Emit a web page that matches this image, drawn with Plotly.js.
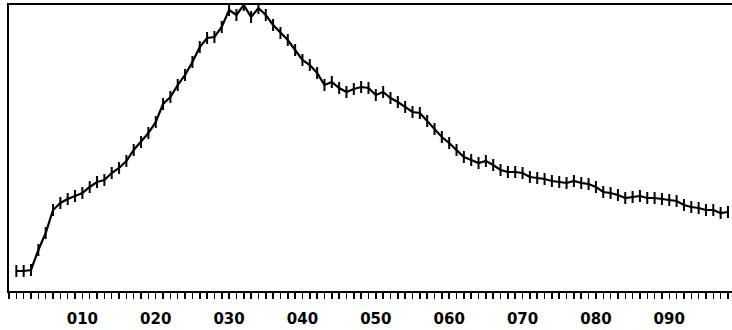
<!DOCTYPE html>
<html>
<head>
<meta charset="utf-8">
<script src="https://cdn.plot.ly/plotly-3.0.1.min.js"></script>
<style>html,body{margin:0;padding:0;background:#fff;}#chart{width:732px;height:330px;}</style>
</head>
<body>
<div id="chart"></div>
<script>
// channel numbers
var channel = [1,2,3,4,5,6,7,8,9,10,11,12,13,14,15,16,17,18,19,20,
  21,22,23,24,25,26,27,28,29,30,31,32,33,34,35,36,37,38,39,40,
  41,42,43,44,45,46,47,48,49,50,51,52,53,54,55,56,57,58,59,60,
  61,62,63,64,65,66,67,68,69,70,71,72,73,74,75,76,77,78,79,80,
  81,82,83,84,85,86,87,88,89,90,91,92,93,94,95,96,97,98];
// counts (arbitrary units)
var counts = [20,20,21,41,58,81,88,92,95,98,
  104,109,111,118,123,130,141,149,158,169,
  187,194,206,216,229,244,253,254,264,281,
  276,286,274,283,276,266,258,251,241,231,
  226,218,206,209,203,199,202,204,203,196,
  199,193,189,184,179,178,170,162,154,148,
  141,134,131,128,130,126,121,119,119,118,
  114,113,112,110,109,108,110,108,107,104,
  99,98,96,93,94,95,93,93,92,91,
  90,86,84,83,81,81,78,79];
var errSize = 6;
var tickPos = [10,20,30,40,50,60,70,80,90];
var tickText = ["010","020","030","040","050","060","070","080","090"];

var trace = {
  x: channel, y: counts, type: 'scatter', mode: 'lines',
  line: {color: '#000', width: 2.2},
  error_y: {type: 'constant', value: errSize, width: 0, thickness: 2, color: '#000'},
  hoverinfo: 'none'
};
var layout = {
  width: 732, height: 330,
  margin: {l: 9, r: 0, t: 5, b: 39},
  paper_bgcolor: '#fff', plot_bgcolor: '#fff',
  showlegend: false,
  xaxis: {
    range: [0, 98.55], showgrid: false, zeroline: false,
    showline: true, linecolor: '#000', linewidth: 2, mirror: true,
    tickmode: 'array', tickvals: tickPos, ticktext: tickText,
    ticks: 'outside', ticklen: 6, tickwidth: 1.5, tickcolor: '#000',
    minor: {dtick: 1, tick0: 0, ticks: 'outside', ticklen: 6, tickwidth: 1.5, tickcolor: '#000', showgrid: false},
    ticklabelstandoff: 7,
    tickfont: {family: 'DejaVu Sans', size: 15, color: '#000', weight: 'bold'}
  },
  yaxis: {
    range: [0, 286], showgrid: false, zeroline: false,
    showline: true, linecolor: '#000', linewidth: 2,
    ticks: '', showticklabels: false
  }
};
Plotly.newPlot('chart', [trace], layout, {staticPlot: true, displayModeBar: false});
</script>
</body>
</html>
